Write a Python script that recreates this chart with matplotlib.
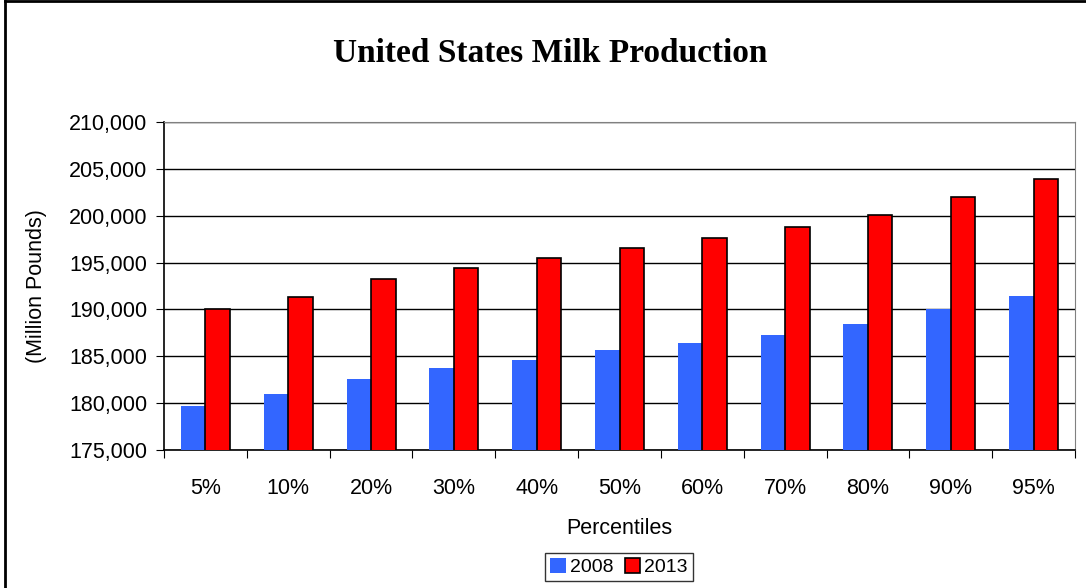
import matplotlib.pyplot as plt
import matplotlib.ticker as mticker
import numpy as np

# data
percentiles = ['5%', '10%', '20%', '30%', '40%', '50%', '60%', '70%', '80%', '90%', '95%']
milk_2008 = [179700, 181000, 182540, 183720, 184600, 185700, 186380, 187240, 188480, 190060, 191420]
milk_2013 = [190030, 191360, 193280, 194460, 195450, 196560, 197620, 198830, 200100, 201960, 203880]

plt.rcParams['font.family'] = ['Liberation Sans', 'DejaVu Sans']

fig = plt.figure(figsize=(10.86, 5.88), dpi=100)
ax = fig.add_axes([164 / 1086, 1 - 450 / 588, (1075 - 164) / 1086, (450 - 122) / 588])

x = np.arange(len(percentiles))
w = 0.296
ax.bar(x - w / 2, milk_2008, w, color='#3366FF', label='2008', zorder=3)
ax.bar(x + w / 2, milk_2013, w, color='#FF0000', edgecolor='black', linewidth=1.2, label='2013', zorder=3)

ax.set_ylim(175000, 210000)
ax.set_xlim(-0.5, len(percentiles) - 0.5)
ax.yaxis.set_major_locator(mticker.MultipleLocator(5000))
ax.yaxis.set_major_formatter(mticker.StrMethodFormatter('{x:,.0f}'))
ax.yaxis.grid(True, color='black', linewidth=1, zorder=0)

# ticks between categories, labels at centers
ax.set_xticks(np.arange(len(percentiles) + 1) - 0.5)
ax.set_xticklabels([])
ax.set_xticks(x, minor=True)
ax.set_xticklabels(percentiles, minor=True, fontsize=15.5)
ax.tick_params(axis='x', which='minor', length=0, pad=20)
ax.tick_params(axis='x', which='major', length=6, direction='out')
ax.tick_params(axis='y', length=6, direction='out', labelsize=15.5, pad=6)

for s in ['top', 'right']:
    ax.spines[s].set_color('#808080')
ax.spines['left'].set_linewidth(1.2)
ax.spines['bottom'].set_linewidth(1.2)

ax.set_xlabel('Percentiles', fontsize=15.5, labelpad=14)
ax.set_ylabel('(Million Pounds)', fontsize=15.5, labelpad=16)

fig.text(0.507, 1 - 53 / 588, 'United States Milk Production', ha='center', va='center',
         fontsize=24, fontweight='bold', family='Liberation Serif')

leg = ax.legend(loc='center', bbox_to_anchor=(619 / 1086, 1 - 567 / 588), bbox_transform=fig.transFigure,
                ncol=2, fontsize=14, frameon=True, fancybox=False, edgecolor='black',
                handlelength=0.8, handleheight=0.8, handletextpad=0.2, columnspacing=0.6,
                borderpad=0.25, borderaxespad=0)
leg.get_frame().set_linewidth(1)

# chart border (left and top edges visible)
fig.add_artist(plt.Line2D([5 / 1086, 5 / 1086], [0, 1 - 1 / 588], color='black', lw=2, transform=fig.transFigure))
fig.add_artist(plt.Line2D([5 / 1086, 1], [1 - 1 / 588, 1 - 1 / 588], color='black', lw=2, transform=fig.transFigure))

fig.savefig('out.png', dpi=100)
